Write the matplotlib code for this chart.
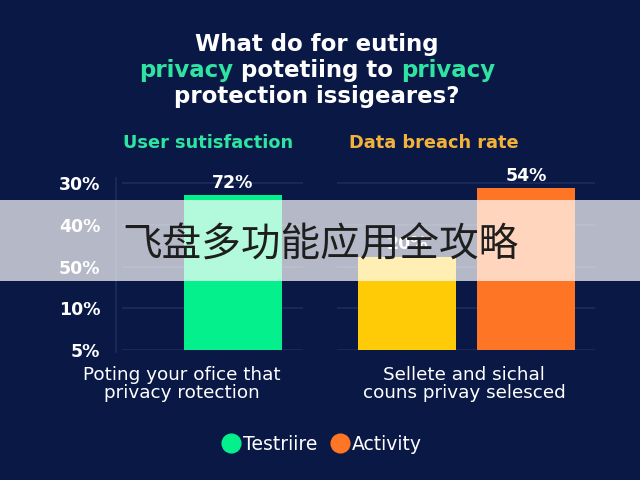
import matplotlib
matplotlib.use('Agg')
import matplotlib.pyplot as plt
from matplotlib.patches import Rectangle
from matplotlib.lines import Line2D

# ---------------- data ----------------
title_line1 = [("What do for euting", "white")]
title_line2 = [("privacy", "green"), (" potetiing to ", "white"), ("privacy", "green")]
title_line3 = [("protection issigeares?", "white")]
panel_titles = ["User sutisfaction", "Data breach rate"]
group_labels = ["Poting your ofice that\nprivacy rotection",
                "Sellete and sichal\ncouns privay selesced"]
y_tick_labels = ["5%", "10%", "50%", "40%", "30%"]
bar_heights = [3.71, 2.23, 3.88]          # in tick-step units above the bottom tick
bar_labels = ["72%", "20%", "54%"]
legend_labels = ["Testriire", "Activity"]
banner_text = "飞盘多功能应用全攻略"

# ---------------- style ----------------
BG = "#0a1845"
GRID = "#1b2c5c"
GREEN = "#03f08d"
YELLOW = "#ffcb06"
ORANGE = "#ff7526"
TXT_GREEN = "#2fe3a2"
TXT_ORANGE = "#f3b23c"
bar_colors = [GREEN, YELLOW, ORANGE]
legend_colors = [GREEN, ORANGE]
bar_x = [1.184, 2.959, 4.173]
FONT = "DejaVu Sans"

W, H = 640, 480
fig = plt.figure(figsize=(6.4, 4.8), dpi=100, facecolor=BG)
ax = fig.add_axes([117 / W, 1 - 350 / H, 483 / W, (350 - 166.3) / H])
ax.set_facecolor(BG)
ax.set_xlim(0, 4.929)
ax.set_ylim(0, 4.4)
for s in ax.spines.values():
    s.set_visible(False)
ax.set_xticks([])
ax.set_yticks(range(len(y_tick_labels)))
ax.set_yticklabels(y_tick_labels, color="white", fontsize=12.5,
                   fontweight="bold", family=FONT)
ax.tick_params(axis="y", length=0, pad=12)

# gridlines per group
ax.hlines(range(len(y_tick_labels)), 0.051, 1.898, color=GRID, lw=1.2, zorder=1)
ax.hlines(range(len(y_tick_labels)), 2.245, 4.878, color=GRID, lw=1.2, zorder=1)
ax.plot([-0.01, -0.01], [-0.05, 4.12], color=GRID, lw=1.2, zorder=1, clip_on=False)

bars = ax.bar(bar_x, bar_heights, width=1.0, color=bar_colors, zorder=2)
for b, lab in zip(bars, bar_labels):
    ax.annotate(lab, (b.get_x() + b.get_width() / 2, b.get_height()),
                xytext=(0, 9), textcoords="offset points", ha="center",
                va="center", color="white", fontsize=12.5, fontweight="bold",
                family=FONT, zorder=3)

# ---------------- title (mixed colours) ----------------
renderer = fig.canvas.get_renderer()


def text_width(s, **kw):
    t1 = fig.text(0, 0, s + "|", **kw)
    t2 = fig.text(0, 0, "|", **kw)
    w = t1.get_window_extent(renderer).width - t2.get_window_extent(renderer).width
    t1.remove()
    t2.remove()
    return w


def draw_line(parts, cx, cy, **kw):
    full = "".join(p for p, _ in parts)
    total = text_width(full, **kw)
    x0 = cx - total / 2
    prefix = ""
    for s, c in parts:
        x = x0 + (text_width(prefix, **kw) if prefix else 0)
        col = {"white": "white", "green": TXT_GREEN}[c]
        fig.text(x / W, 1 - cy / H, s, color=col, ha="left", va="center", **kw)
        prefix += s


tkw = dict(fontsize=16.5, fontweight="bold", family=FONT)
draw_line(title_line1, 317, 44, **tkw)
draw_line(title_line2, 317, 70, **tkw)
draw_line(title_line3, 317, 97, **tkw)

fig.text(208 / W, 1 - 143 / H, panel_titles[0], color=TXT_GREEN, ha="center",
         va="center", fontsize=12.8, fontweight="bold", family=FONT)
fig.text(434 / W, 1 - 143 / H, panel_titles[1], color=TXT_ORANGE, ha="center",
         va="center", fontsize=12.8, fontweight="bold", family=FONT)

fig.text(182 / W, 1 - 384 / H, group_labels[0], color="white", ha="center",
         va="center", fontsize=13.2, family=FONT, linespacing=1.0)
fig.text(464 / W, 1 - 384 / H, group_labels[1], color="white", ha="center",
         va="center", fontsize=13.2, family=FONT, linespacing=1.0)

# legend
handles = [Line2D([], [], marker="o", linestyle="none", markersize=13.5,
                  markerfacecolor=c, markeredgecolor=c) for c in legend_colors]
leg = fig.legend(handles, legend_labels, loc="center",
                 bbox_to_anchor=(322 / W, 1 - 444 / H), ncol=2, frameon=False,
                 handletextpad=0.15, columnspacing=0.7, handlelength=1.0,
                 prop=dict(family=FONT, size=13.5))
for t in leg.get_texts():
    t.set_color("white")

# banner overlay
fig.patches.append(Rectangle((0, 1 - 281 / H), 1, 81 / H, transform=fig.transFigure,
                             facecolor="white", alpha=0.7, edgecolor="none", zorder=10))
fig.text(320 / W, 1 - 245 / H, banner_text, color="#1e1e1e", ha="center", va="center",
         fontsize=28.5, family=["Noto Sans CJK SC", "DejaVu Sans"], zorder=11)

fig.savefig("out.png", dpi=100, facecolor=BG)
